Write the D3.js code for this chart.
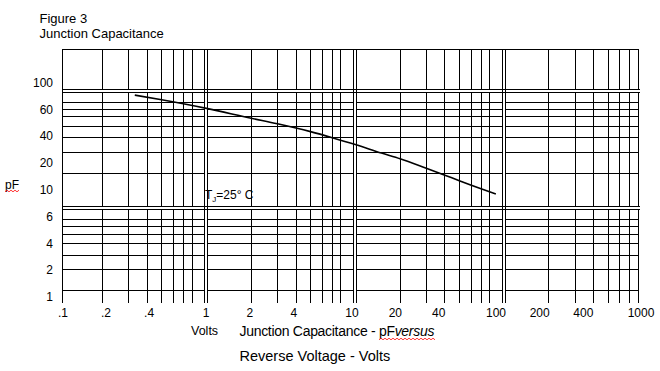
<!DOCTYPE html>
<html>
<head>
<meta charset="utf-8">
<script src="https://cdn.jsdelivr.net/npm/d3@7"></script>
<style>
  body { margin: 0; background: #fff; }
  svg { display: block; font-family: Arial, "Liberation Sans", sans-serif; }
</style>
</head>
<body>
<svg id="chart" width="660" height="371"></svg>
<script>
// Reverse voltage (V) vs junction capacitance (pF)
const voltage = [0.33, 0.5, 1, 2, 3, 5, 7, 10, 15, 20, 30, 40, 50, 70, 88];
const capacitance = [92, 84, 71, 58.5, 52.5, 45, 40, 35, 29.6, 26.5, 22, 19.2, 17.2, 14.7, 13.3];

// log paper: every decade ruled at 2..8 (no 9 line), decades split by double rules
const gridSteps = [2, 3, 4, 5, 6, 7, 8];
const xDecades = [0.1, 1, 10, 100];
const yDecades = [1, 10];          // top band has no horizontal rules
const xBreaks = [1, 10, 100];
const yBreaks = [10, 100];

const xTickLabels = ['.1', '.2', '.4', '1', '2', '4', '10', '20', '40', '100', '200', '400', '1000'];
const yTickLabels = ['100', '60', '40', '20', '10', '6', '4', '2', '1'];

const frame = { left: 62, right: 638.5, top: 49, bottom: 303 };

const svg = d3.select('#chart');

// grid scales (the paper itself)
const x = d3.scaleLog().domain([0.107, 800]).range([frame.left, frame.right]);
const y = d3.scaleLog().domain([1.57, 227]).range([frame.bottom, frame.top]);

// the printed labels sit on their own text layer, a bit off the rules
const xLabel = d3.scaleLog().domain([0.1, 1, 10, 100, 1000]).range([63, 206, 352, 496, 641]);
const yLabel = d3.scalePoint().domain(yTickLabels).range([82.5, 297]);

const grid = svg.append('g')
    .attr('stroke', '#000')
    .attr('stroke-width', 1)
    .attr('shape-rendering', 'crispEdges');

const vLines = xDecades.flatMap(d => gridSteps.map(s => d * s));
const hLines = yDecades.flatMap(d => gridSteps.map(s => d * s));

grid.selectAll('.v').data(vLines).join('line')
    .attr('x1', d => x(d)).attr('x2', d => x(d))
    .attr('y1', frame.top).attr('y2', frame.bottom);

grid.selectAll('.h').data(hLines).join('line')
    .attr('x1', frame.left).attr('x2', frame.right)
    .attr('y1', d => y(d)).attr('y2', d => y(d));

// frame: left and top edges (bottom is left open)
grid.append('line')
    .attr('x1', frame.left).attr('x2', frame.left)
    .attr('y1', frame.top).attr('y2', frame.bottom);
grid.append('line')
    .attr('x1', frame.left).attr('x2', frame.right)
    .attr('y1', frame.top).attr('y2', frame.top);

// double rules between decades: white gap with a black line either side
const gaps = svg.append('g').attr('fill', '#fff').attr('shape-rendering', 'crispEdges');
gaps.selectAll('.gx').data(xBreaks).join('rect')
    .attr('x', d => Math.round(x(d)) - 1).attr('width', 2)
    .attr('y', frame.top + 1).attr('height', frame.bottom - frame.top - 1);
gaps.selectAll('.gy').data(yBreaks).join('rect')
    .attr('x', frame.left + 1).attr('width', frame.right - frame.left - 1)
    .attr('y', d => Math.round(y(d)) - 1).attr('height', 2);

const rules = svg.append('g')
    .attr('stroke', '#000')
    .attr('stroke-width', 1)
    .attr('shape-rendering', 'crispEdges');

xBreaks.forEach(b => {
    [-1.5, 1.5].forEach(o => {
        rules.append('line')
            .attr('x1', Math.round(x(b)) + o).attr('x2', Math.round(x(b)) + o)
            .attr('y1', frame.top).attr('y2', frame.bottom);
    });
});
yBreaks.forEach(b => {
    [-1.5, 1.5].forEach(o => {
        rules.append('line')
            .attr('x1', frame.left).attr('x2', frame.right + 1)
            .attr('y1', Math.round(y(b)) + o).attr('y2', Math.round(y(b)) + o);
    });
});

// capacitance curve
const pts = voltage.map((v, i) => [v, capacitance[i]]);
svg.append('path')
    .datum(pts)
    .attr('fill', 'none')
    .attr('stroke', '#000')
    .attr('stroke-width', 1.6)
    .attr('d', d3.line()
        .x(d => x(d[0]))
        .y(d => y(d[1]))
        .curve(d3.curveMonotoneX));

// tick labels
svg.append('g').selectAll('text').data(yTickLabels).join('text')
    .attr('x', 53)
    .attr('y', d => yLabel(d))
    .attr('dy', '0.35em')
    .attr('text-anchor', 'end')
    .attr('font-size', 12)
    .text(d => d);

svg.append('g').selectAll('text').data(xTickLabels).join('text')
    .attr('x', d => xLabel(+d))
    .attr('y', 313)
    .attr('dy', '0.35em')
    .attr('text-anchor', 'middle')
    .attr('font-size', 12)
    .text(d => d);

// titles
svg.append('text').attr('x', 39.5).attr('y', 22.5).attr('font-size', 13).text('Figure 3');
svg.append('text').attr('x', 39.5).attr('y', 37.5).attr('font-size', 13).text('Junction Capacitance');

svg.append('text').attr('x', 5).attr('y', 189).attr('font-size', 12).text('pF');

const tj = svg.append('text').attr('x', 205).attr('y', 199).attr('font-size', 12);
tj.append('tspan').text('T');
tj.append('tspan').attr('font-size', 8).attr('dy', 3).text('J');
tj.append('tspan').attr('dy', -3).text('=25° C');

svg.append('text').attr('x', 191).attr('y', 334.5).attr('font-size', 12.5).text('Volts');

const jc = svg.append('text')
    .attr('x', 239.5).attr('y', 336)
    .attr('font-size', 14)
    .attr('letter-spacing', -0.3);
jc.append('tspan').text('Junction Capacitance - pF');
jc.append('tspan').attr('font-style', 'italic').text('versus');

svg.append('text').attr('x', 239.5).attr('y', 361).attr('font-size', 14.5)
    .text('Reverse Voltage - Volts');

// red spell-check squiggles under "pF"
function squiggle(x0, x1, yb) {
    const p = d3.range(x0, x1 + 0.1, 2).map((px, i) => [px, yb + (i % 2 ? -0.8 : 0.8)]);
    svg.append('path')
        .attr('d', d3.line()(p))
        .attr('fill', 'none')
        .attr('stroke', '#f00')
        .attr('stroke-width', 0.8);
}
squiggle(5, 19, 191);
squiggle(379, 435, 339);
</script>
</body>
</html>
